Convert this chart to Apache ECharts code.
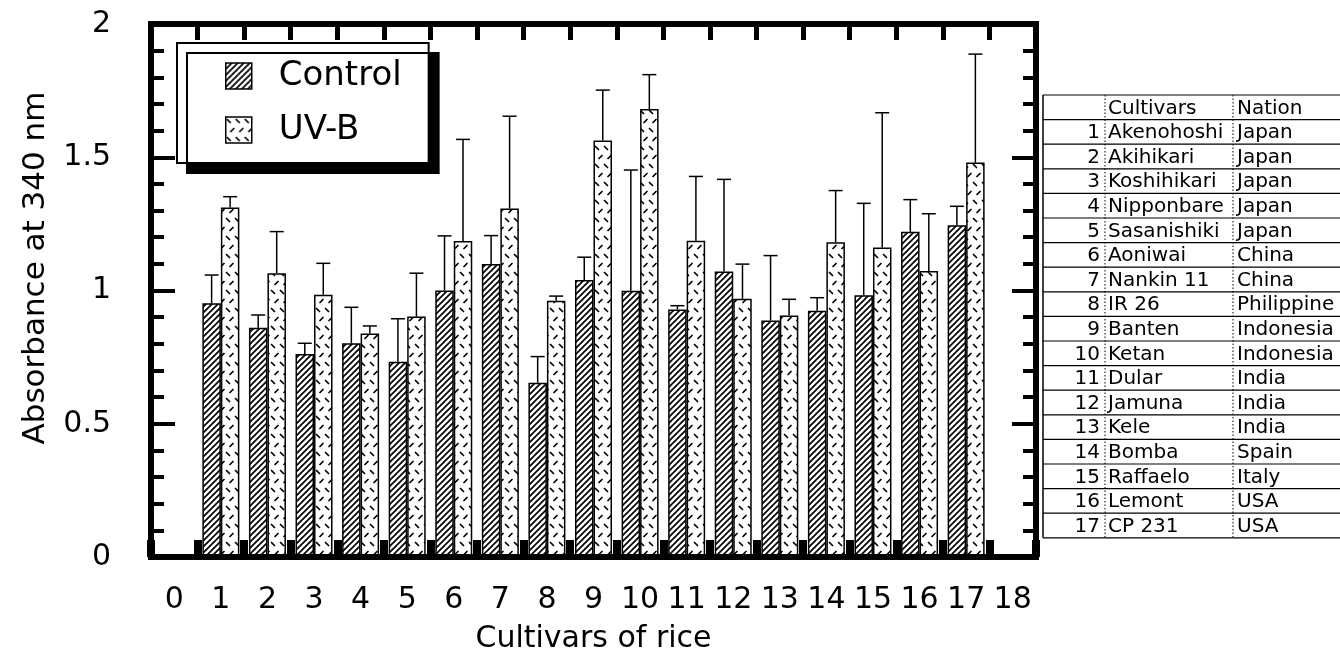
<!DOCTYPE html>
<html><head><meta charset="utf-8">
<script src="https://cdn.jsdelivr.net/npm/echarts@6/dist/echarts.min.js"></script>
<style>html,body{margin:0;padding:0;background:#fff}#c{width:1340px;height:652px}</style>
</head><body><div id="c"></div>
<script>
// ---------- data ----------
const xTickLabels = ['0','1','2','3','4','5','6','7','8','9','10','11','12','13','14','15','16','17','18'];
const cultivarIds = [1,2,3,4,5,6,7,8,9,10,11,12,13,14,15,16,17];
const controlMean = [0.952,0.860,0.762,0.802,0.733,1.000,1.099,0.654,1.039,0.999,0.929,1.071,0.887,0.924,0.982,1.220,1.245];
const controlErr  = [0.106,0.048,0.040,0.135,0.161,0.205,0.107,0.098,0.086,0.453,0.014,0.346,0.244,0.049,0.345,0.121,0.071];
const uvbMean     = [1.311,1.065,0.984,0.839,0.902,1.186,1.308,0.962,1.563,1.681,1.187,0.969,0.906,1.181,1.161,1.073,1.480];
const uvbErr      = [0.041,0.156,0.118,0.028,0.163,0.381,0.346,0.017,0.189,0.129,0.241,0.130,0.061,0.194,0.506,0.215,0.407];
const cultivarNames = ['Akenohoshi','Akihikari','Koshihikari','Nipponbare','Sasanishiki','Aoniwai','Nankin 11','IR 26','Banten','Ketan','Dular','Jamuna','Kele','Bomba','Raffaelo','Lemont','CP 231'];
const nations = ['Japan','Japan','Japan','Japan','Japan','China','China','Philippine','Indonesia','Indonesia','India','India','India','Spain','Italy','USA','USA'];
const tableHeader = ['', 'Cultivars', 'Nation'];
const seriesNames = ['Control', 'UV-B'];
const yAxisTitle = 'Absorbance at 340 nm';
const xAxisTitle = 'Cultivars of rice';

// ---------- patterns ----------
function hatchPattern(){
  const s = 6, c = document.createElement('canvas'); c.width = s; c.height = s;
  const g = c.getContext('2d');
  g.fillStyle = '#fff'; g.fillRect(0,0,s,s);
  g.strokeStyle = '#000'; g.lineWidth = 1.7;
  g.beginPath();
  g.moveTo(0,s); g.lineTo(s,0);
  g.moveTo(-1,1); g.lineTo(1,-1);
  g.moveTo(s-1,s+1); g.lineTo(s+1,s-1);
  g.stroke();
  return c;
}
function dashPattern(){
  const w = 9, h = 18, c = document.createElement('canvas'); c.width = w; c.height = h;
  const g = c.getContext('2d');
  g.fillStyle = '#fff'; g.fillRect(0,0,w,h);
  g.strokeStyle = '#000'; g.lineWidth = 1.7; g.lineCap = 'round';
  g.beginPath();
  g.moveTo(1.5,2.5); g.lineTo(4.5,5.5);
  g.moveTo(5,14.5); g.lineTo(8,11.5);
  g.stroke();
  return c;
}
const ctrlFill = {image: hatchPattern(), repeat: 'repeat'};
const uvbFill = {image: dashPattern(), repeat: 'repeat'};

const FONT = 'DejaVu Sans';
const BAR_W = 18.5;

function padded(arr){
  const out = xTickLabels.map(() => null);
  cultivarIds.forEach((id, i) => { out[id] = arr[i]; });
  return out;
}
function errData(mean, err){
  return cultivarIds.map((id, i) => [id, mean[i], err[i]]);
}
function errRender(offset){
  return function(params, api){
    const i = api.value(0), m = api.value(1), e = api.value(2);
    const base = api.coord([i, m]);
    const top = api.coord([i, m + e]);
    const x = base[0] + offset;
    return {type:'group', children:[
      {type:'line', shape:{x1:x, y1:base[1], x2:x, y2:top[1]}, style:{stroke:'#000', lineWidth:1.5}},
      {type:'line', shape:{x1:x-7, y1:top[1], x2:x+7, y2:top[1]}, style:{stroke:'#000', lineWidth:1.5}}
    ]};
  };
}

// ---------- table graphics ----------
const T = {top:95, rowH:24.6, left:1043, right:1340, numRight:1100, sep1:1105, sep2:1233, nameX:1108, nationX:1237};
const tableEls = [];
const nRows = cultivarNames.length + 1;
for (let k = 0; k <= nRows; k++){
  const y = T.top + k*T.rowH;
  tableEls.push({type:'line', shape:{x1:T.left, y1:y, x2:T.right, y2:y}, style:{stroke:'#000', lineWidth:1.2}});
}
tableEls.push({type:'line', shape:{x1:T.left, y1:T.top, x2:T.left, y2:T.top+nRows*T.rowH}, style:{stroke:'#000', lineWidth:1.5}});
[T.sep1, T.sep2].forEach(x => tableEls.push({type:'line', shape:{x1:x, y1:T.top, x2:x, y2:T.top+nRows*T.rowH}, style:{stroke:'#000', lineWidth:1, lineDash:[1.5,2]}}));
function tText(txt, x, y, align, size){
  return {type:'text', x:x, y:y, style:{text:txt, fontSize:size || 20, fontFamily:FONT, fill:'#000', align:align, verticalAlign:'middle', textAlign:align, textVerticalAlign:'middle'}};
}
tableEls.push(tText(tableHeader[1], T.nameX, T.top + 0.5*T.rowH + 1, 'left'));
tableEls.push(tText(tableHeader[2], T.nationX, T.top + 0.5*T.rowH + 1, 'left'));
cultivarNames.forEach((nm, i) => {
  const y = T.top + (i+1.5)*T.rowH + 1;
  tableEls.push(tText(String(cultivarIds[i]), T.numRight, y, 'right'));
  tableEls.push(tText(nm, T.nameX, y, 'left'));
  tableEls.push(tText(nations[i], T.nationX, y, 'left'));
});
const yTitle = tText(yAxisTitle, 36, 268, 'center', 31);
yTitle.rotation = Math.PI/2;
tableEls.push(yTitle);

// ---------- chart ----------
const chart = echarts.init(document.getElementById('c'));
const frameLine = {color:'#000', width:6, cap:'square'};
chart.setOption({
  animation:false,
  backgroundColor:'#fff',
  grid:{left:151, right:304, top:24, bottom:95, containLabel:false, outerBoundsMode:'none'},
  legend:{
    orient:'vertical', left:177, top:43, itemWidth:26, itemHeight:26, itemGap:20,
    padding:[16,27,16,48], backgroundColor:'#fff', borderColor:'#000', borderWidth:2,
    shadowColor:'#000', shadowBlur:0, shadowOffsetX:10, shadowOffsetY:10,
    icon:'rect', data:seriesNames,
    itemStyle:{borderColor:'#000', borderWidth:1.5},
    textStyle:{fontFamily:FONT, fontSize:34, color:'#000', padding:[0,0,0,22]}
  },
  xAxis:[
    {type:'category', data:xTickLabels, position:'bottom', boundaryGap:true, z:5,
     axisLine:{onZero:false, lineStyle:frameLine},
     axisTick:{show:true, inside:true, interval:0, length:17, lineStyle:{color:'#000', width:8}},
     axisLabel:{interval:0, margin:28, fontFamily:FONT, fontSize:30, color:'#000'},
     name:xAxisTitle, nameLocation:'middle', nameGap:67,
     nameTextStyle:{fontFamily:FONT, fontSize:30, color:'#000'}},
    {type:'category', data:xTickLabels, position:'top', boundaryGap:true, z:5,
     axisLine:{onZero:false, lineStyle:frameLine},
     axisTick:{show:true, inside:true, interval:0, length:16, lineStyle:{color:'#000', width:5}},
     axisLabel:{show:false}}
  ],
  yAxis:[
    {type:'value', min:0, max:2, interval:0.5, position:'left', z:5,
     axisLine:{show:true, onZero:false, lineStyle:frameLine},
     axisTick:{show:true, inside:true, length:24, lineStyle:{color:'#000', width:4}},
     minorTick:{show:true, splitNumber:5, length:13, lineStyle:{color:'#000', width:4}},
     splitLine:{show:false},
     axisLabel:{margin:40, fontFamily:FONT, fontSize:30, color:'#000'}},
    {type:'value', min:0, max:2, interval:0.5, position:'right', z:5,
     axisLine:{show:true, onZero:false, lineStyle:frameLine},
     axisTick:{show:true, inside:true, length:24, lineStyle:{color:'#000', width:4}},
     minorTick:{show:true, splitNumber:5, length:13, lineStyle:{color:'#000', width:4}},
     splitLine:{show:false},
     axisLabel:{show:false}}
  ],
  series:[
    {name:seriesNames[0], type:'bar', xAxisIndex:0, yAxisIndex:0, data:padded(controlMean),
     barWidth:BAR_W, barGap:'0%',
     itemStyle:{color:ctrlFill, borderColor:'#000', borderWidth:1.5}},
    {name:seriesNames[1], type:'bar', xAxisIndex:0, yAxisIndex:0, data:padded(uvbMean),
     barWidth:BAR_W, barGap:'0%',
     itemStyle:{color:uvbFill, borderColor:'#000', borderWidth:1.5}},
    {type:'custom', xAxisIndex:0, yAxisIndex:0, z:3, data:errData(controlMean, controlErr),
     encode:{x:0, y:1}, renderItem:errRender(-BAR_W/2)},
    {type:'custom', xAxisIndex:0, yAxisIndex:0, z:3, data:errData(uvbMean, uvbErr),
     encode:{x:0, y:1}, renderItem:errRender(BAR_W/2)}
  ],
  graphic:tableEls
});
</script></body></html>
